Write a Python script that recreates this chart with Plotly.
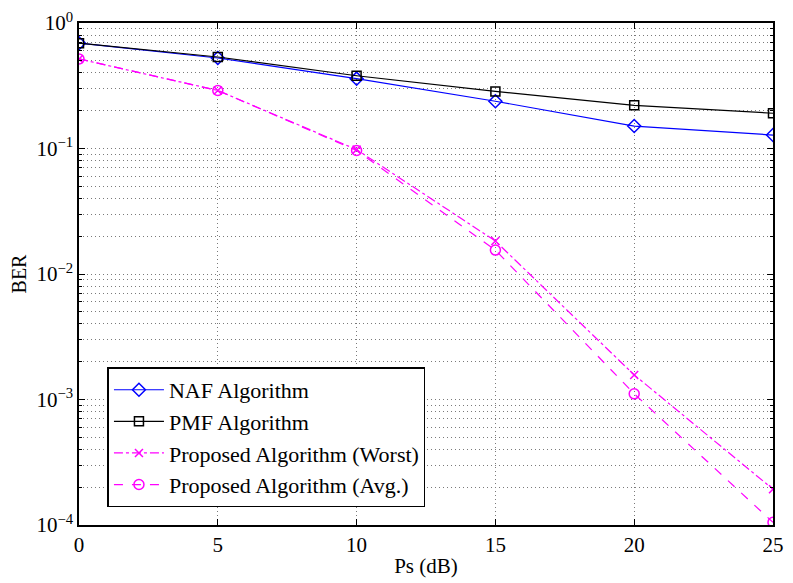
import plotly.graph_objects as go

ps_db = [0, 5, 10, 15, 20, 25]
ber_naf = [0.69, 0.526, 0.36, 0.238, 0.151, 0.128]
ber_pmf = [0.69, 0.536, 0.38, 0.285, 0.221, 0.191]
ber_worst = [0.517, 0.29, 0.098, 0.0183, 0.00157, 0.000193]
ber_avg = [0.517, 0.29, 0.0964, 0.0155, 0.00111, 0.000105]

y_tickvals = [1, 0.1, 0.01, 0.001, 0.0001]
y_ticktext = ["10<sup>0</sup>", "10<sup>−1</sup>", "10<sup>−2</sup>", "10<sup>−3</sup>", "10<sup>−4</sup>"]
x_tickvals = [0, 5, 10, 15, 20, 25]

font_family = "Liberation Serif"

fig = go.Figure()
fig.add_trace(go.Scatter(
    x=ps_db, y=ber_naf, name="NAF Algorithm", mode="lines+markers",
    line=dict(color="#0000ff", width=1.2),
    marker=dict(symbol="diamond-open", size=10, color="#0000ff", line=dict(width=1.5)),
))
fig.add_trace(go.Scatter(
    x=ps_db, y=ber_pmf, name="PMF Algorithm", mode="lines+markers",
    line=dict(color="#000000", width=1.2),
    marker=dict(symbol="square-open", size=9, color="#000000", line=dict(width=1.5)),
))
fig.add_trace(go.Scatter(
    x=ps_db, y=ber_worst, name="Proposed Algorithm (Worst)", mode="lines+markers",
    line=dict(color="#ff00ff", width=1.2, dash="dashdot"),
    marker=dict(symbol="x-thin-open", size=8, color="#ff00ff", line=dict(width=1.5, color="#ff00ff")),
))
fig.add_trace(go.Scatter(
    x=ps_db, y=ber_avg, name="Proposed Algorithm (Avg.)", mode="lines+markers",
    line=dict(color="#ff00ff", width=1.2, dash="dash"),
    marker=dict(symbol="circle-open", size=10, color="#ff00ff", line=dict(width=1.5)),
))

grid_color = "#7a7a7a"
grid_dash = "1px,3px"
fig.update_layout(
    width=793, height=583,
    margin=dict(l=79, r=9, t=18, b=55),
    paper_bgcolor="white", plot_bgcolor="white",
    font=dict(family=font_family, size=20, color="black"),
    showlegend=True,
    legend=dict(
        x=0.041, y=0.035, xanchor="left", yanchor="bottom",
        bgcolor="white", bordercolor="black", borderwidth=1.5,
        font=dict(family=font_family, size=22, color="black"),
        tracegroupgap=0, itemwidth=50,
    ),
    xaxis=dict(
        range=[0, 25], tickvals=x_tickvals, ticks="inside", ticklen=6,
        tickcolor="black", showline=True, linecolor="black", linewidth=1.5,
        mirror="allticks", showgrid=True, gridcolor=grid_color, griddash=grid_dash,
        gridwidth=1, zeroline=False,
        title=dict(text="Ps (dB)", standoff=2, font=dict(size=21)),
        tickfont=dict(size=21),
    ),
    yaxis=dict(
        type="log", range=[-4, 0], tickvals=y_tickvals, ticktext=y_ticktext,
        ticks="inside", ticklen=6, tickcolor="black",
        showline=True, linecolor="black", linewidth=1.5, mirror="allticks",
        showgrid=True, gridcolor=grid_color, griddash=grid_dash, gridwidth=1,
        zeroline=False,
        minor=dict(ticks="inside", ticklen=3, tickcolor="black", dtick="D1",
                   showgrid=True, gridcolor=grid_color, griddash=grid_dash, gridwidth=1),
        title=dict(text="BER", standoff=4, font=dict(size=20)),
        tickfont=dict(size=21),
    ),
)

fig.write_html("out.html")
